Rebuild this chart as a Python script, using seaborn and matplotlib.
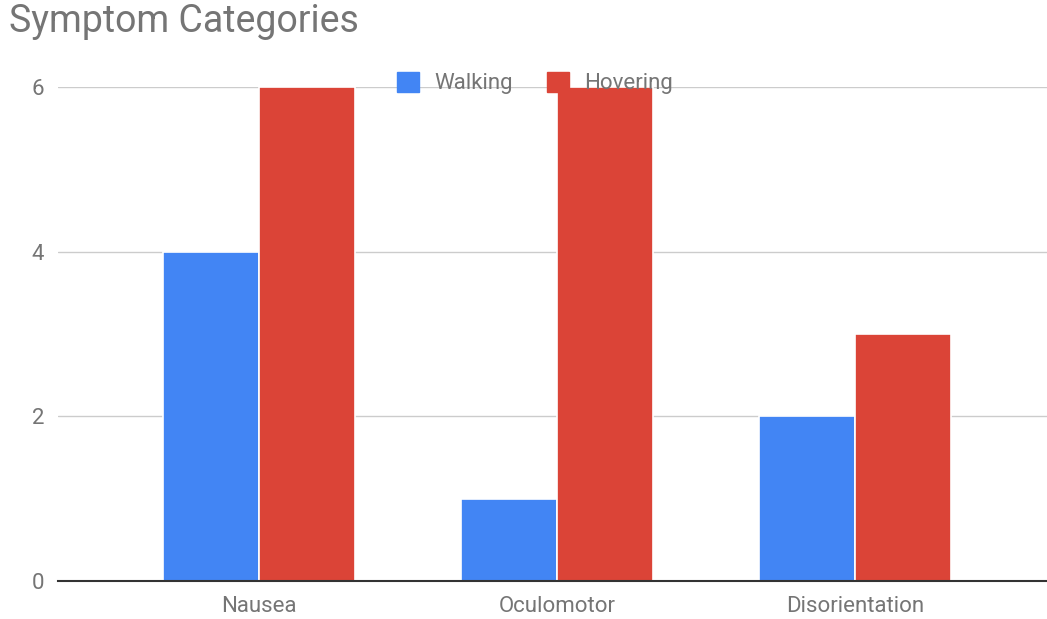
import matplotlib
matplotlib.use("Agg")
import matplotlib.pyplot as plt
from matplotlib.patches import Patch
import seaborn as sns
import pandas as pd

categories = ["Nausea", "Oculomotor", "Disorientation"]
walking = [4, 1, 2]
hovering = [6, 6, 3]
series_names = ["Walking", "Hovering"]
colors = ["#4285F4", "#DB4437"]

df = pd.DataFrame({
    "category": categories * 2,
    "series": [series_names[0]] * 3 + [series_names[1]] * 3,
    "value": walking + hovering,
})

sns.set_theme(style="white")
plt.rcParams["font.family"] = ["Roboto", "DejaVu Sans"]

grey = "#757575"
fig = plt.figure(figsize=(10.47, 6.19), dpi=100)
ax = fig.add_axes([58 / 1047, 1 - 581 / 619, 1 - 58 / 1047, (581 - 87) / 619])

sns.barplot(data=df, x="category", y="value", hue="series", order=categories,
            hue_order=series_names, palette=colors, width=0.645, saturation=1,
            edgecolor="white", linewidth=1.2, ax=ax, legend=False, zorder=3)

ax.set_xlim(-0.674, 2.644)
ax.set_ylim(0, 6)
ax.set_yticks([0, 2, 4, 6])
ax.set_xlabel("")
ax.set_ylabel("")
ax.grid(axis="y", color="#cccccc", linewidth=1, zorder=0)
ax.set_axisbelow(True)
for s in ["left", "right", "top"]:
    ax.spines[s].set_visible(False)
ax.spines["bottom"].set_color("#333333")
ax.spines["bottom"].set_linewidth(1.5)
ax.spines["bottom"].set_zorder(5)
ax.tick_params(axis="both", length=0, labelsize=16, labelcolor=grey)
ax.tick_params(axis="y", pad=10)
ax.tick_params(axis="x", pad=11)

fig.text(9 / 1047, 1 - 22 / 619, "Symptom Categories", fontsize=27,
         color=grey, ha="left", va="center")

handles = [Patch(facecolor=c, edgecolor=c, label=n) for c, n in zip(colors, series_names)]
leg = fig.legend(handles=handles, loc="center", bbox_to_anchor=(535 / 1047, 1 - 83 / 619),
                 ncol=2, frameon=False, fontsize=16, handlelength=1.0, handleheight=1.0,
                 handletextpad=0.7, columnspacing=1.5)
for t in leg.get_texts():
    t.set_color(grey)

fig.savefig("out.png", dpi=100)
